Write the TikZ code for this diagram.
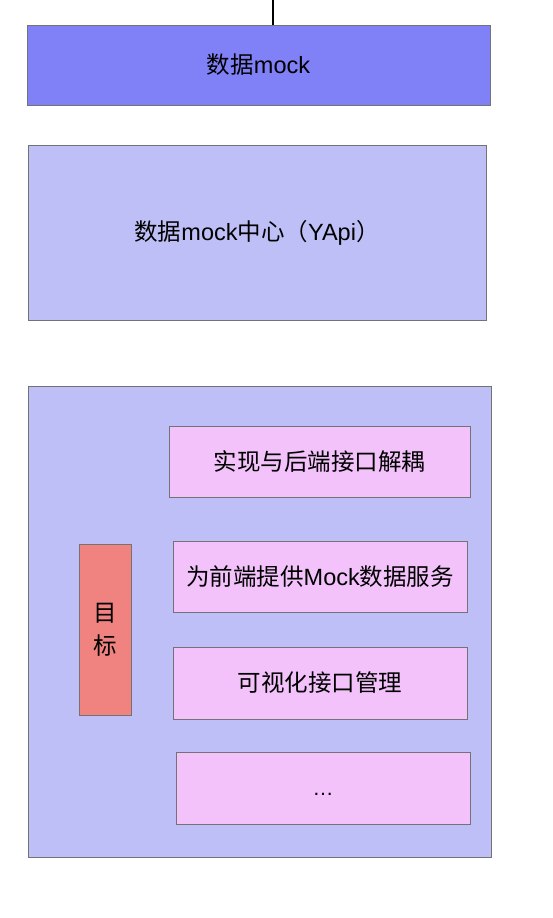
\documentclass[tikz,border=0pt]{standalone}
\usepackage{fontspec}
\setmainfont{Liberation Sans}
\newfontfamily\cjk{Noto Sans CJK SC}
\begin{document}
\begin{tikzpicture}[x=1pt,y=-1pt,
  box/.style={draw=gray!90!black, line width=1pt, inner sep=0pt, font=\fontsize{23.5}{28}\selectfont},
  dark/.style={box, fill=darkblue},
  light/.style={box, fill=lightblue},
  item/.style={box, fill=pinkfill},
  goal/.style={box, fill=salmon}]
\definecolor{darkblue}{RGB}{128,128,247}
\definecolor{lightblue}{RGB}{191,191,247}
\definecolor{pinkfill}{RGB}{243,194,250}
\definecolor{salmon}{RGB}{240,130,128}
\useasboundingbox (0,0) rectangle (552,918);
\node[dark, minimum width=463pt, minimum height=80pt] (mock) at (258.5,65) {{\cjk 数据}mock};
\node[light, minimum width=458pt, minimum height=175pt] (center) at (257,232.5) {{\cjk 数据}mock{\cjk 中心（}YApi{\cjk ）}};
\node[light, minimum width=463pt, minimum height=471pt] (outer) at (259.5,621.5) {};
\node[goal, minimum width=52pt, minimum height=171pt, align=center, font=\fontsize{23.5}{33}\selectfont\cjk] (goal) at (105,629.5) {目\\标};
\node[item, minimum width=301pt, minimum height=71pt, font=\fontsize{23.5}{28}\selectfont\cjk] (i1) at (319.5,461.5) {实现与后端接口解耦};
\node[item, minimum width=294pt, minimum height=71pt] (i2) at (320,576.5) {{\cjk 为前端提供}Mock{\cjk 数据服务}};
\node[item, minimum width=294pt, minimum height=72pt, font=\fontsize{23.5}{28}\selectfont\cjk] (i3) at (320,683) {可视化接口管理};
\node[item, minimum width=294pt, minimum height=72pt, font=\fontsize{21}{24}\selectfont, text height=14pt, text depth=0pt] (i4) at (323,788) {\dots};
\coordinate (topin) at (273,0);
\draw[line width=2pt] (topin) -- (mock.north -| topin);
\end{tikzpicture}
\end{document}
